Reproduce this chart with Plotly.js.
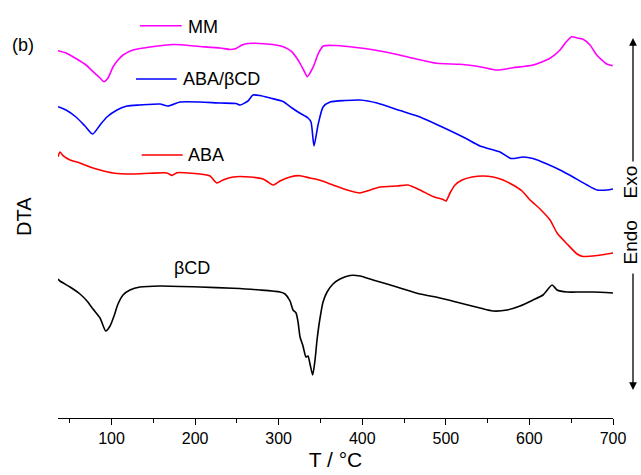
<!DOCTYPE html>
<html>
<head>
<meta charset="utf-8">
<script src="https://cdn.plot.ly/plotly-3.0.1.min.js"></script>
<style>html,body{margin:0;padding:0;background:#fff;}#chart{width:641px;height:475px;}</style>
</head>
<body>
<div id="chart"></div>
<script>
// Temperature (°C) and DTA signal (arbitrary units, offset curves)
var mmT = [36,45.6,58.4,69.5,77.9,86.3,91.0,95.8,101.8,107.8,113.8,125.7,146.1,173.6,205.9,229.8,241.8,249,256.2,263.3,286.1,305.6,315.6,325.6,330.4,334.3,337.5,341.5,347.5,353.4,367.4,385.4,403.4,429.3,460.8,489.1,517,540.9,560.9,580.4,604.3,624.7,636.6,643.8,650.6,657,664.2,672.5,680.5,692.5,699.7];
var mmY = [367.3,365,359,353,346.3,340,336.3,340,351,358,363,368,371,373.5,371.5,370,368.5,369.5,373,374.5,374,371.3,366.3,354.7,347,341.3,345,351.3,364.7,372,372.5,371.3,369.5,365.7,359.7,354.7,353.7,351.3,348,350.3,353,359.7,368,376,381.3,380,378.7,373,363,354,352.3];

var cxT = [36,45.6,57.5,68.3,77.5,86.3,94.6,106.6,118.6,134.1,158,167.6,182,205.9,229.8,249,253.8,263.3,269.3,277.7,289.7,305.2,316,325.6,335.1,338.7,342.3,347.1,353.1,361.5,379.4,397.3,417.7,445.2,469.1,493.1,523,540.9,564.8,578,592.4,604.3,621.1,636.6,652.2,668.9,680.9,692.9,700];
var cxY = [311.3,308,301,292,284,293,301,308,312,313,314,312,316,316,315,314.5,313,317,323,322.5,320,316.5,310,304.7,300,296,272,293,311,316,317.5,318,315,307.5,301,292,280,272,266,259.5,261,259.5,254,248,241,233,228,228,229];

var abaT = [36,38.4,42,50.4,62.3,74.3,86.3,101.8,125.7,146.1,166.4,172.4,178.4,205.9,217.9,226.2,233.4,245.4,265.7,281.3,287.3,293.3,301.6,313.6,325.6,337.5,349.5,365,381.8,397.3,405.7,421.3,441.6,454.8,469.1,484.7,496.7,500.2,505,511,519.4,531.4,544.6,556.5,568.5,580.4,591.2,600.8,612.7,624.7,633.1,645.1,657,664.2,681,700];
var abaY = [261.3,266,262.3,258,255,251,248,245,244,244.7,245,242.5,245.3,244,242,235,238,241,241,239,236,233,237,241,242.3,240,237.7,233,228,225,227,231,232,233,228,221.5,218.5,217,225,233,238,241,242,241,238,233,227,218,209,198,185,174,164,161.5,162.5,165];

var cdT = [36,38.4,50.4,62.3,70.7,77.9,86.3,93.1,98.3,103,107.8,113.8,122.1,134.1,158,205.9,245.4,277.7,301.6,307.6,313.6,317.2,320.8,323.2,325.6,329.1,332.7,335.1,337.5,340.7,343.5,345.9,349.5,353.1,357.9,365,373.4,385.4,397.3,412.9,429.6,445.2,469.1,493.1,517,540.9,556.5,573.2,588.8,604.3,616.3,627.1,633.1,645.1,660.7,676.3,700];
var cdY = [139,137,131,124,117,109,100,87,92,102,114,123,128,131,132,131,129.7,128,126,124,117,108,105,96,81,72,61,62,54,43,58,78,100,116,126,134,139,142.5,142,138,134,130,124,120,115,110,107,108,112,118,123,133,128,126,126,126,125];

var seriesNames = ['MM','ABA/βCD','ABA','βCD'];
var seriesColors = ['#ff00ff','#0000ff','#ff0000','#000000'];
var xTickVals = [100,200,300,400,500,600,700];

var xs = [mmT, cxT, abaT, cdT];
var ys = [mmY, cxY, abaY, cdY];
var traces = xs.map(function(x,i){
  return {x:x, y:ys[i], type:'scatter', mode:'lines', name:seriesNames[i],
          line:{color:seriesColors[i], width:1.6, shape:'spline', smoothing:0.6}, hoverinfo:'skip'};
});

var fontFam = 'Liberation Sans, Arial, sans-serif';
var W = 555, H = 418, L = 58;
function px(x){ return (x - L)/W; }
function py(y){ return (H - y)/H; }

var layout = {
  width:641, height:475,
  margin:{l:58, r:28, t:0, b:57, pad:0},
  paper_bgcolor:'#fff', plot_bgcolor:'#fff',
  showlegend:false,
  font:{family:fontFam, color:'#000'},
  xaxis:{
    range:[36,700], tickmode:'array', tickvals:xTickVals,
    ticks:'outside', ticklen:6, tickwidth:1, tickcolor:'#000',
    showline:true, linecolor:'#000', linewidth:1, mirror:false,
    showgrid:false, zeroline:false,
    tickfont:{size:16, family:fontFam, color:'#000'},
    minor:{tickvals:[50,150,250,350,450,550,650], ticks:'outside', ticklen:4, tickcolor:'#000', tickwidth:1},
    title:{text:'T / °C', font:{size:21, family:fontFam, color:'#000'}, standoff:6}
  },
  yaxis:{range:[0,418], visible:false, fixedrange:true},
  shapes:[
    {type:'line', xref:'paper', yref:'paper', x0:px(140), x1:px(181.7), y0:py(25.7), y1:py(25.7), line:{color:seriesColors[0], width:1.6}},
    {type:'line', xref:'paper', yref:'paper', x0:px(136), x1:px(176.7), y0:py(79), y1:py(79), line:{color:seriesColors[1], width:1.6}},
    {type:'line', xref:'paper', yref:'paper', x0:px(141.7), x1:px(182.7), y0:py(155), y1:py(155), line:{color:seriesColors[2], width:1.6}}
  ],
  annotations:[
    {text:'(b)', xref:'paper', yref:'paper', x:px(23), y:py(45), xanchor:'center', yanchor:'middle', showarrow:false, font:{size:18}},
    {text:seriesNames[0], xref:'paper', yref:'paper', x:px(186), y:py(26.5), xanchor:'left', yanchor:'middle', showarrow:false, font:{size:18}},
    {text:seriesNames[1], xref:'paper', yref:'paper', x:px(181), y:py(79), xanchor:'left', yanchor:'middle', showarrow:false, font:{size:18}},
    {text:seriesNames[2], xref:'paper', yref:'paper', x:px(186), y:py(155), xanchor:'left', yanchor:'middle', showarrow:false, font:{size:18}},
    {text:seriesNames[3], xref:'paper', yref:'paper', x:px(172), y:py(268.3), xanchor:'left', yanchor:'middle', showarrow:false, font:{size:18}},
    {text:'DTA', xref:'paper', yref:'paper', x:px(24), y:py(217), xanchor:'center', yanchor:'middle', textangle:-90, showarrow:false, font:{size:20}},
    {text:'Exo', xref:'paper', yref:'paper', x:px(630), y:py(182.5), xanchor:'center', yanchor:'middle', textangle:-90, showarrow:false, font:{size:19}},
    {text:'Endo', xref:'paper', yref:'paper', x:px(630), y:py(242.5), xanchor:'center', yanchor:'middle', textangle:-90, showarrow:false, font:{size:19}},
    {text:'', xref:'paper', yref:'paper', x:px(633), y:py(38), showarrow:true, ax:0, ay:125, arrowhead:2, arrowsize:1.2, arrowwidth:1.3, arrowcolor:'#000', standoff:0, startstandoff:0},
    {text:'', xref:'paper', yref:'paper', x:px(633), y:py(390), showarrow:true, ax:0, ay:-118, arrowhead:2, arrowsize:1.2, arrowwidth:1.3, arrowcolor:'#000', standoff:0, startstandoff:0}
  ]
};

Plotly.newPlot('chart', traces, layout, {displayModeBar:false, staticPlot:true});
</script>
</body>
</html>
